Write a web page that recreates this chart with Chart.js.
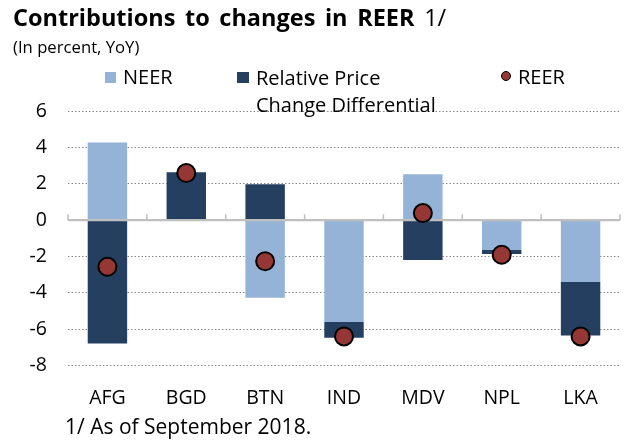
<!DOCTYPE html>
<html>
<head>
<meta charset="utf-8">
<script src="https://cdn.jsdelivr.net/npm/chart.js@4"></script>
<style>
  html, body { margin: 0; padding: 0; background: #fff; }
  #wrap { position: relative; width: 631px; height: 445px; overflow: hidden; font-family: "Open Sans", sans-serif; color: #000; }
  #c { position: absolute; left: 0; top: 0; }
  .t { position: absolute; white-space: nowrap; }
  #title { left: 13px; top: 6px; font-size: 23.5px; line-height: 23.5px; word-spacing: 3.5px; }
  #title b { font-weight: 700; }
  #sub { left: 13px; top: 38.5px; font-size: 16.7px; line-height: 16.7px; }
  .lg { font-size: 20px; line-height: 20px; }
  .sq { position: absolute; width: 11px; height: 11px; }
  #foot { left: 65px; top: 415.5px; font-size: 21px; line-height: 21px; }
</style>
</head>
<body>
<div id="wrap">
  <canvas id="c" width="631" height="445"></canvas>
  <div class="t" id="title"><b>Contributions to changes in REER</b> 1/</div>
  <div class="t" id="sub">(In percent, YoY)</div>
  <div class="sq" style="left:105px;top:72px;background:#95B3D7"></div>
  <div class="t lg" style="left:123px;top:67px">NEER</div>
  <div class="sq" style="left:237px;top:72px;width:12px;background:#243F60"></div>
  <div class="t lg" style="left:256px;top:63.5px;line-height:27.7px">Relative Price<br>Change Differential</div>
  <div style="position:absolute;left:501px;top:71px;width:8px;height:8px;border-radius:50%;background:#953735;border:1.2px solid #000"></div>
  <div class="t lg" style="left:518px;top:67px">REER</div>
  <div class="t" id="foot">1/ As of September 2018.</div>
</div>
<script>
const categories = ['AFG', 'BGD', 'BTN', 'IND', 'MDV', 'NPL', 'LKA'];
const neer = [4.27, 0, -4.26, -5.6, 2.53, -1.64, -3.4];
const relativePrice = [-6.78, 2.64, 1.98, -0.87, -2.19, -0.22, -2.94];
const reer = [-2.56, 2.59, -2.26, -6.39, 0.39, -1.9, -6.39];
const yMin = -8, yMax = 6, yStep = 2;

const zeroAxis = {
  id: 'zeroAxis',
  beforeDatasetDraw(chart, args) {
    if (args.index !== 2) return;
    const ctx = chart.ctx, x = chart.scales.x, y = chart.scales.y;
    const y0 = y.getPixelForValue(0);
    const step = (x.right - x.left) / categories.length;
    ctx.save();
    ctx.strokeStyle = '#BFBFBF';
    ctx.lineWidth = 2.2;
    ctx.beginPath();
    ctx.moveTo(x.left, y0); ctx.lineTo(x.right, y0);
    ctx.stroke();
    ctx.lineWidth = 1.5;
    ctx.beginPath();
    for (let k = 0; k <= categories.length; k++) {
      const px = x.left + k * step;
      ctx.moveTo(px, y0); ctx.lineTo(px, y0 - 6);
    }
    ctx.stroke();
    ctx.restore();
  }
};

new Chart(document.getElementById('c'), {
  data: {
    labels: categories,
    datasets: [
      { type: 'bar', label: 'NEER', data: neer, backgroundColor: '#95B3D7', stack: 's', order: 2,
        categoryPercentage: 1, barPercentage: 0.5 },
      { type: 'bar', label: 'Relative Price Change Differential', data: relativePrice, backgroundColor: '#243F60', stack: 's', order: 2,
        categoryPercentage: 1, barPercentage: 0.5 },
      { type: 'line', label: 'REER', data: reer, showLine: false, stack: 'r', order: 1,
        pointRadius: 9, pointHoverRadius: 9, pointBackgroundColor: '#953735', pointBorderColor: '#000', pointBorderWidth: 2 }
    ]
  },
  options: {
    responsive: false,
    animation: false,
    events: [],
    layout: { padding: { top: 111, right: 0, bottom: 0, left: 0 } },
    plugins: { legend: { display: false }, tooltip: { enabled: false }, title: { display: false } },
    scales: {
      x: {
        stacked: true,
        grid: { display: false, drawTicks: false },
        border: { display: false },
        ticks: { color: '#000', font: { family: 'Open Sans', size: 19.5 }, padding: 21.5, maxRotation: 0 },
        afterFit(s) { s.height = 79.3; }
      },
      y: {
        stacked: true,
        min: yMin, max: yMax,
        grid: { color: '#8a8a8a', lineWidth: 1, drawTicks: false },
        border: { display: false, dash: [1.5, 2] },
        ticks: { stepSize: yStep, color: '#000', font: { family: 'Open Sans', size: 19.5 }, padding: 21 },
        afterFit(s) { s.width = 68; }
      }
    }
  },
  plugins: [zeroAxis]
});
</script>
</body>
</html>
